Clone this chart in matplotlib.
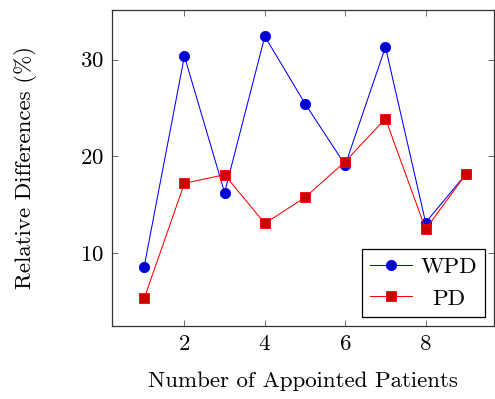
import matplotlib
matplotlib.use("Agg")
import matplotlib.pyplot as plt

# Relative differences per number of appointed patients
patients = [1, 2, 3, 4, 5, 6, 7, 8, 9]
wpd = [8.6, 30.35, 16.25, 32.4, 25.45, 19.1, 31.3, 13.15, 18.15]
pd_vals = [5.3, 17.2, 18.1, 13.05, 15.75, 19.45, 23.9, 12.45, 18.15]

x_ticks = [2, 4, 6, 8]
y_ticks = [10, 20, 30]

plt.rcParams['font.family'] = ['cmr10', 'DejaVu Serif']
plt.rcParams['mathtext.fontset'] = 'cm'
plt.rcParams['axes.formatter.use_mathtext'] = True

FS = 16.5

fig = plt.figure(figsize=(4.95, 3.99), dpi=100)
ax = fig.add_axes([0.2263, 0.1837, 0.7717, 0.791])

ax.plot(patients, wpd, color='#0000ff', lw=0.75, marker='o', markersize=7.4,
        markerfacecolor='#0000cc', markeredgecolor='#0000ff', markeredgewidth=0.6,
        label='WPD')
ax.plot(patients, pd_vals, color='#ff0000', lw=0.75, marker='s', markersize=7.9,
        markerfacecolor='#cc0000', markeredgecolor='#ff0000', markeredgewidth=0.6,
        label='PD')

ax.set_xlim(0.2, 9.7)
ax.set_ylim(2.48, 35.12)
ax.set_xticks(x_ticks)
ax.set_yticks(y_ticks)
ax.tick_params(direction='in', length=4.5, width=0.6, color='#555555',
               top=True, right=True, labelsize=FS, pad=6)
for s in ax.spines.values():
    s.set_linewidth(0.9)
    s.set_color('#333333')

ax.set_xlabel('Number of Appointed Patients', fontsize=FS, labelpad=13)
ax.set_ylabel('Relative Differences (%)', fontsize=FS, labelpad=31)

leg = ax.legend(loc='lower right', fontsize=FS, frameon=True, fancybox=False,
                edgecolor='black', framealpha=1, borderpad=0.35,
                handlelength=1.85, handletextpad=0.35, labelspacing=0.5,
                borderaxespad=0.4)
leg.get_frame().set_linewidth(0.9)

# center the legend labels within their column, pgfplots style
fig.canvas.draw()
renderer = fig.canvas.get_renderer()
texts = leg.get_texts()
widths = [t.get_window_extent(renderer).width for t in texts]
wmax = max(widths)
for t, w in zip(texts, widths):
    t.set_x((wmax - w) / 2)

fig.savefig('out.png', dpi=100)
